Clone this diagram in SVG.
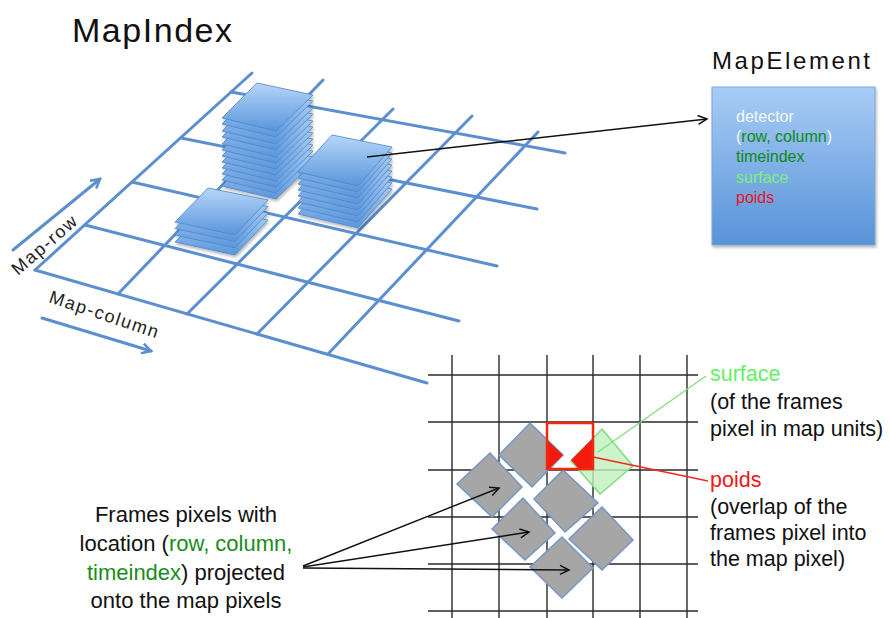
<svg xmlns="http://www.w3.org/2000/svg" width="890" height="618" viewBox="0 0 890 618">
<style>
.grid{stroke:#5b8fcf;stroke-width:3;stroke-linecap:round;fill:none}
.bgrid{stroke:#2a2a2a;stroke-width:1.4;fill:none}
.plate{stroke:#4f86c8;stroke-width:0.8}
.pix{fill:#a6a6a6;stroke:#7597c6;stroke-width:1.5}
.t{font-family:"Liberation Sans",Arial,sans-serif}
.blk{stroke:#111;stroke-width:1.4;fill:none}
</style>
<defs>
<linearGradient id="pg" x1="0" y1="0" x2="0" y2="1">
<stop offset="0" stop-color="#b6d6f9"/>
<stop offset="1" stop-color="#5a96dc"/>
</linearGradient>
<linearGradient id="bg" x1="0" y1="0" x2="0" y2="1">
<stop offset="0" stop-color="#a8ccf6"/>
<stop offset="1" stop-color="#5893d8"/>
</linearGradient>
<filter id="sh" x="-20%" y="-20%" width="140%" height="140%">
<feDropShadow dx="1" dy="2" stdDeviation="1.5" flood-color="#000" flood-opacity="0.3"/>
</filter>
<marker id="ab" markerWidth="12" markerHeight="12" refX="10" refY="6" orient="auto" markerUnits="userSpaceOnUse">
<path d="M1,1 L10,6 L1,11" fill="none" stroke="#5b8fcf" stroke-width="2.5"/>
</marker>
<marker id="ak" markerWidth="12" markerHeight="12" refX="10" refY="6" orient="auto" markerUnits="userSpaceOnUse">
<path d="M1,1.5 L10,6 L1,10.5" fill="none" stroke="#111" stroke-width="1.5"/>
</marker>
<polygon id="plA" class="plate" points="222,118 257,83 313,95 276,131" fill="url(#pg)"/>
<polygon id="plB" class="plate" points="298,172 332,135 392,147 358,186" fill="url(#pg)"/>
<polygon id="plC" class="plate" points="175,222 208,188 268,200 235,235" fill="url(#pg)"/>
</defs>

<text class="t" x="72" y="42" font-size="34" textLength="160" fill="#111">MapIndex</text>

<g id="map-grid">
<line class="grid" x1="35" y1="270" x2="252" y2="73"/>
<line class="grid" x1="118" y1="294" x2="323" y2="80"/>
<line class="grid" x1="187" y1="314" x2="393" y2="109"/>
<line class="grid" x1="257" y1="334" x2="472" y2="116"/>
<line class="grid" x1="328" y1="354" x2="538" y2="132"/>
<line class="grid" x1="35" y1="270" x2="427" y2="383"/>
<line class="grid" x1="85" y1="225" x2="459" y2="321"/>
<line class="grid" x1="132" y1="182" x2="497" y2="266"/>
<line class="grid" x1="181" y1="138" x2="537" y2="209"/>
<line class="grid" x1="231" y1="92" x2="565" y2="153"/>
</g>

<g id="map-row-axis">
<line class="grid" x1="13" y1="250" x2="100" y2="179" marker-end="url(#ab)"/>
<text class="t" font-size="18" fill="#222" textLength="80" transform="translate(18,276) rotate(-41)">Map-row</text>
</g>
<g id="map-column-axis">
<line class="grid" x1="42" y1="318" x2="151" y2="351" marker-end="url(#ab)"/>
<text class="t" font-size="18" fill="#222" textLength="114" transform="translate(48,302) rotate(18.5)">Map-column</text>
</g>

<g id="stack-a" filter="url(#sh)">
<use href="#plA" y="68"/><use href="#plA" y="62"/><use href="#plA" y="56"/><use href="#plA" y="50"/>
<use href="#plA" y="44"/><use href="#plA" y="38"/><use href="#plA" y="32"/><use href="#plA" y="26"/>
<use href="#plA" y="19"/><use href="#plA" y="13"/><use href="#plA" y="6"/><use href="#plA"/>
</g>
<g id="stack-b" filter="url(#sh)">
<use href="#plB" y="42"/><use href="#plB" y="36"/><use href="#plB" y="30"/><use href="#plB" y="24"/>
<use href="#plB" y="18"/><use href="#plB" y="12"/><use href="#plB" y="6"/><use href="#plB"/>
</g>
<g id="stack-c" filter="url(#sh)">
<use href="#plC" y="20"/><use href="#plC" y="13"/><use href="#plC" y="6.5"/><use href="#plC"/>
</g>

<text class="t" x="712" y="69" font-size="24" textLength="158" fill="#111">MapElement</text>
<g id="map-element">
<rect x="712" y="87" width="163" height="158" fill="url(#bg)" stroke="#7fa6d6" stroke-width="1" filter="url(#sh)"/>
<text class="t" x="736" y="122" font-size="16" fill="#f4f8ff">detector</text>
<text class="t" x="736" y="142" font-size="16" fill="#0e8a16"><tspan fill="#f4f8ff">(</tspan>row, column<tspan fill="#f4f8ff">)</tspan></text>
<text class="t" x="736" y="162" font-size="16" fill="#0e8a16">timeindex</text>
<text class="t" x="736" y="183" font-size="16" fill="#7df07a">surface</text>
<text class="t" x="736" y="203" font-size="16" fill="#e8141c">poids</text>
</g>

<g id="pixel-grid">
<line class="bgrid" x1="452" y1="355" x2="452" y2="618"/>
<line class="bgrid" x1="499" y1="355" x2="499" y2="618"/>
<line class="bgrid" x1="547" y1="355" x2="547" y2="618"/>
<line class="bgrid" x1="593" y1="355" x2="593" y2="618"/>
<line class="bgrid" x1="640" y1="355" x2="640" y2="618"/>
<line class="bgrid" x1="687" y1="355" x2="687" y2="618"/>
<line class="bgrid" x1="428" y1="375" x2="698" y2="375"/>
<line class="bgrid" x1="428" y1="422" x2="698" y2="422"/>
<line class="bgrid" x1="428" y1="470" x2="698" y2="470"/>
<line class="bgrid" x1="428" y1="517" x2="698" y2="517"/>
<line class="bgrid" x1="428" y1="564" x2="698" y2="564"/>
<line class="bgrid" x1="428" y1="611" x2="698" y2="611"/>
</g>

<g id="frame-pixels">
<polygon class="pix" points="530,423 563,455 532,487 499,455"/>
<polygon class="pix" points="490,453 522,487 492,517 457,484"/>
<polygon class="pix" points="563,470 598,503 565,532 534,499"/>
<polygon class="pix" points="523,498 555,533 525,560 492,529"/>
<polygon class="pix" points="602,507 633,540 602,570 569,539"/>
<polygon class="pix" points="562,537 593,568 562,598 530,567"/>
</g>
<g id="surface-pixel">
<polygon points="602,429 633,466 600,494 571,461" fill="#bff0bb" fill-opacity="0.8" stroke="#80de80" stroke-width="1.5"/>
</g>
<g id="map-pixel">
<polygon points="547,440 563,455 549,469 547,469" fill="#f31c0c"/>
<polygon points="571,460 593,438 593,469 579,469" fill="#f31c0c"/>
<rect x="547" y="423" width="46" height="46" fill="none" stroke="#f0280e" stroke-width="2.5"/>
</g>

<g id="connectors">
<line class="blk" x1="367" y1="157" x2="707" y2="119" marker-end="url(#ak)"/>
<line class="blk" x1="303" y1="566" x2="499" y2="488" marker-end="url(#ak)"/>
<line class="blk" x1="303" y1="567" x2="529" y2="532" marker-end="url(#ak)"/>
<line class="blk" x1="303" y1="568" x2="569" y2="570" marker-end="url(#ak)"/>
<line x1="598" y1="452" x2="706" y2="376" stroke="#7ee07e" stroke-width="1.3"/>
<line x1="593" y1="457" x2="708" y2="481" stroke="#f0281e" stroke-width="1.3"/>
</g>

<g id="frames-label" class="t" font-size="22" fill="#111" text-anchor="middle">
<text x="186" y="522">Frames pixels with</text>
<text x="186" y="551">location (<tspan fill="#1a8c1a">row, column,</tspan></text>
<text x="186" y="580"><tspan fill="#1a8c1a">timeindex</tspan>) projected</text>
<text x="186" y="608">onto the map pixels</text>
</g>

<g id="surface-label" class="t" font-size="21.5" fill="#111">
<text x="710" y="381" fill="#66ee66">surface</text>
<text x="710" y="409">(of the frames</text>
<text x="710" y="436">pixel in map units)</text>
</g>
<g id="poids-label" class="t" font-size="21.5" fill="#111">
<text x="710" y="487" fill="#f01818">poids</text>
<text x="710" y="514">(overlap of the</text>
<text x="710" y="540">frames pixel into</text>
<text x="710" y="566">the map pixel)</text>
</g>
</svg>
